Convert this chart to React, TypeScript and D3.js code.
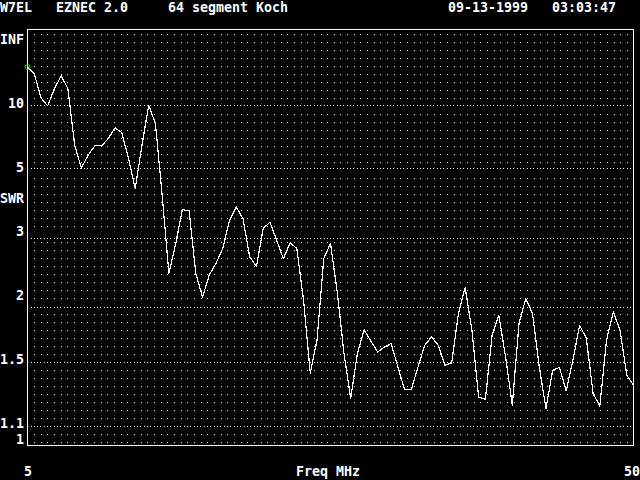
import React from "react";
import * as d3 from "d3";

const TITLE_ITEMS = [
  { text: "W7EL", col: 0 },
  { text: "EZNEC 2.0", col: 7 },
  { text: "64 segment Koch", col: 21 },
  { text: "09-13-1999", col: 56 },
  { text: "03:03:47", col: 69 },
];

const F_START = 5;
const F_END = 50;
const F_STEP = 0.5;

const SWR = [
  21.2, 17.9, 11.2, 9.89, 13.1, 16.9, 13.1, 6.19, 5.01, 5.62,
  6.15, 6.15, 6.63, 7.46, 7.08, 5.45, 4.23, 6.19, 9.99, 7.85,
  4.02, 2.41, 2.875, 3.62, 3.59, 2.41, 2.11, 2.39, 2.56, 2.8,
  3.36, 3.69, 3.4, 2.66, 2.51, 3.18, 3.32, 2.95, 2.63, 2.9,
  2.8, 2.07, 1.42, 1.68, 2.63, 2.89, 2.17, 1.57, 1.255, 1.57,
  1.77, 1.67, 1.58, 1.62, 1.65, 1.466, 1.311, 1.311, 1.466, 1.635,
  1.706, 1.635, 1.478, 1.496, 1.93, 2.225, 1.767, 1.264, 1.249, 1.721,
  1.912, 1.541, 1.215, 1.83, 2.093, 1.93, 1.466, 1.195, 1.442, 1.462,
  1.302, 1.516, 1.814, 1.693, 1.286, 1.209, 1.68, 1.946, 1.767, 1.407,
  1.339,
];

// y tick labels: value (SWR), label, text row (16px rows)
const Y_TICKS = [
  { swr: 10, label: "10", row: 6 },
  { swr: 5, label: "5", row: 10 },
  { swr: 3, label: "3", row: 14 },
  { swr: 2, label: "2", row: 18 },
  { swr: 1.5, label: "1.5", row: 22 },
  { swr: 1.1, label: "1.1", row: 26 },
];
const Y_EXTRA_LABELS = [
  { label: "INF", baseline: 44 },
  { label: "SWR", baseline: 203 },
  { label: "1", baseline: 444 },
];

const X_LABELS = [
  { text: "5", col: 3 },
  { text: "Freq MHz", col: 37 },
  { text: "50", col: 78 },
];

const FONT = "'DejaVu Sans Mono', 'Liberation Mono', monospace";

function rho(s: number) {
  return (s - 1) / (s + 1);
}

export default function App() {
  const W = 640;
  const H = 480;
  const left = 27.5, right = 633.5, top = 29.5, bottom = 445.5;

  const freqs = d3.range(F_START, F_END + F_STEP / 2, F_STEP);
  const x = d3.scaleLinear().domain([F_START, F_END]).range([left, right]);
  const yr = d3.scaleLinear().domain([0, 1]).range([bottom, top]);
  const y = (s: number) => yr(rho(s));

  const line = d3
    .line<number>()
    .x((_, i) => x(freqs[i]))
    .y((d) => y(d));

  // regular dotted grid
  const nCols = 90;
  const colStep = (right - left) / 91;
  const denseYs = Y_TICKS.map((t) => y(t.swr));
  const dots: JSX.Element[] = [];
  for (let j = 0; j < 52; j++) {
    const yy = 34 + 8 * j;
    if (denseYs.some((d) => Math.abs(d - yy) < 4)) continue;
    for (let i = 1; i <= nCols; i++) {
      const xx = Math.round(left + i * colStep);
      dots.push(
        <rect key={`d${i}-${j}`} x={xx} y={yy} width={1} height={1} fill="#fff" />
      );
    }
  }
  // dense dotted lines at tick values
  const dense: JSX.Element[] = [];
  Y_TICKS.forEach((t, ti) => {
    const yy = Math.round(y(t.swr));
    for (let xx = left + 3; xx < right - 2; xx += colStep / 2) {
      dense.push(
        <rect key={`n${ti}-${xx}`} x={Math.round(xx)} y={yy} width={1} height={1} fill="#fff" />
      );
    }
  });

  return (
    <svg
      width={W}
      height={H}
      style={{ position: "absolute", left: 0, top: 0, display: "block" }}
    >
      <rect x={0} y={0} width={W} height={H} fill="#000" />
      <g shapeRendering="crispEdges">{dots}{dense}</g>
      <rect
        x={left}
        y={top}
        width={right - left}
        height={bottom - top}
        fill="none"
        stroke="#fff"
        strokeWidth={1}
        shapeRendering="crispEdges"
      />
      <path
        d={line(SWR) || ""}
        fill="none"
        stroke="#fff"
        strokeWidth={1.2}
        strokeLinejoin="round"
        shapeRendering="crispEdges"
      />
      <circle cx={x(freqs[0])} cy={y(SWR[0])} r={2.5} fill="none" stroke="#00e000" strokeWidth={1} />
      <g fill="#fff" fontFamily={FONT} fontWeight="bold" fontSize={13.3}>
        {TITLE_ITEMS.map((t) => (
          <text key={t.text} x={t.col * 8} y={12}>
            {t.text}
          </text>
        ))}
        {Y_TICKS.map((t) => (
          <text key={t.label} x={24} y={t.row * 16 + 12} textAnchor="end">
            {t.label}
          </text>
        ))}
        {Y_EXTRA_LABELS.map((t) => (
          <text key={t.label} x={24} y={t.baseline} textAnchor="end">
            {t.label}
          </text>
        ))}
        {X_LABELS.map((t) => (
          <text key={t.text} x={t.col * 8} y={476}>
            {t.text}
          </text>
        ))}
      </g>
    </svg>
  );
}
